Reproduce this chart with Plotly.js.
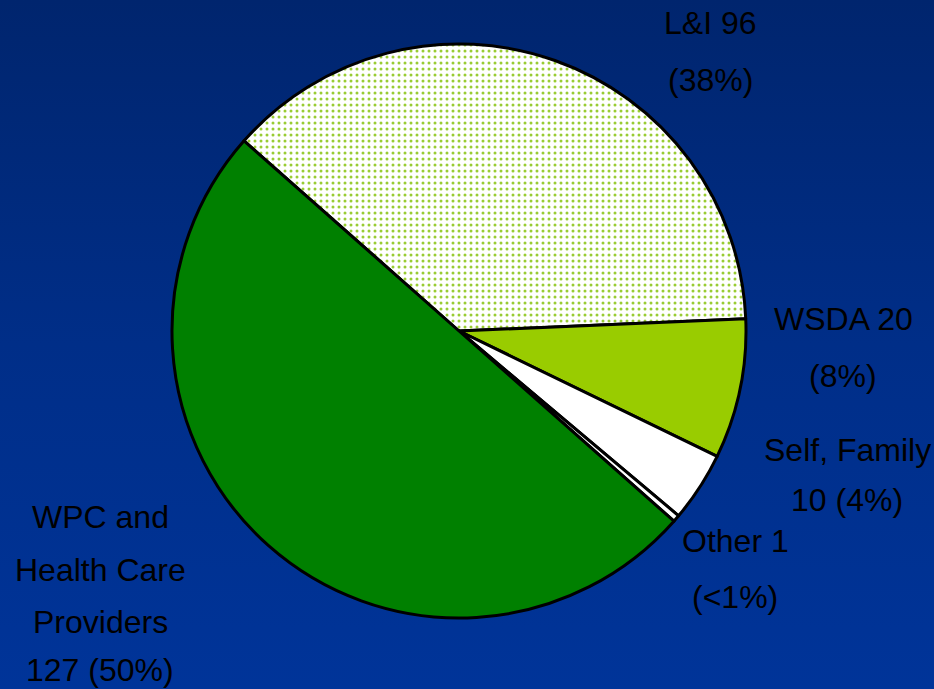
<!DOCTYPE html>
<html>
<head>
<meta charset="utf-8">
<script src="https://cdn.plot.ly/plotly-3.0.1.min.js"></script>
<style>
html,body{margin:0;padding:0;width:934px;height:689px;overflow:hidden;}
#chart{width:934px;height:689px;background:linear-gradient(to bottom,#00256e 0%,#002e88 50%,#003499 100%);}
</style>
</head>
<body>
<div id="chart"></div>
<script>
// Data
const labels = ["L&I", "WSDA", "Self, Family", "Other", "WPC and Health Care Providers"];
const values = [96, 20, 10, 1, 127];
const colors = ["#ffffff", "#99cc00", "#ffffff", "#ffffff", "#008000"];

const total = values.reduce((a, b) => a + b, 0);
function pct(v) {
  const p = v / total * 100;
  return p < 1 ? "<1%" : Math.round(p) + "%";
}

// Label lines per slice (text built from data), with placement
const labelLines = [
  [labels[0] + " " + values[0], "(" + pct(values[0]) + ")"],
  [labels[1] + " " + values[1], "(" + pct(values[1]) + ")"],
  [labels[2], values[2] + " (" + pct(values[2]) + ")"],
  [labels[3] + " " + values[3], "(" + pct(values[3]) + ")"],
  ["WPC and", "Health Care", "Providers", values[4] + " (" + pct(values[4]) + ")"]
];
const labelPos = [
  {x: 710, y: [23, 80]},
  {x: 843, y: [319, 376]},
  {x: 847, y: [450, 500]},
  {x: 735, y: [541, 597]},
  {x: 100, y: [517, 570, 622, 670]}
];

const W = 934, H = 689;
const annotations = [];
labelLines.forEach((lines, i) => {
  lines.forEach((t, j) => {
    annotations.push({
      xref: "paper", yref: "paper",
      x: labelPos[i].x / W, y: 1 - labelPos[i].y[j] / H,
      xanchor: "center", yanchor: "middle",
      text: t.replace(/&/g, "&amp;").replace(/</g, "&lt;"),
      showarrow: false,
      font: {family: "Liberation Sans, Arial, sans-serif", size: 32, color: "#000000"}
    });
  });
});

const cx = 459, cy = 331, r = 287;
const trace = {
  type: "pie",
  labels: labels,
  values: values,
  sort: false,
  direction: "clockwise",
  rotation: -48.5,
  textinfo: "none",
  hoverinfo: "label+value+percent",
  marker: {
    colors: colors,
    line: {color: "#000000", width: 3},
    pattern: {
      shape: [".", "", "", "", ""],
      fgcolor: ["#99cc33", "#99cc00", "#ffffff", "#ffffff", "#008000"],
      bgcolor: colors,
      size: 6,
      solidity: 0.2
    }
  },
  domain: {
    x: [(cx - r) / W, (cx + r) / W],
    y: [(H - cy - r) / H, (H - cy + r) / H]
  },
  showlegend: false
};

const layout = {
  width: W, height: H,
  margin: {l: 0, r: 0, t: 0, b: 0},
  paper_bgcolor: "rgba(0,0,0,0)",
  plot_bgcolor: "rgba(0,0,0,0)",
  showlegend: false,
  annotations: annotations
};

Plotly.newPlot("chart", [trace], layout, {displayModeBar: false, staticPlot: true});
</script>
</body>
</html>
